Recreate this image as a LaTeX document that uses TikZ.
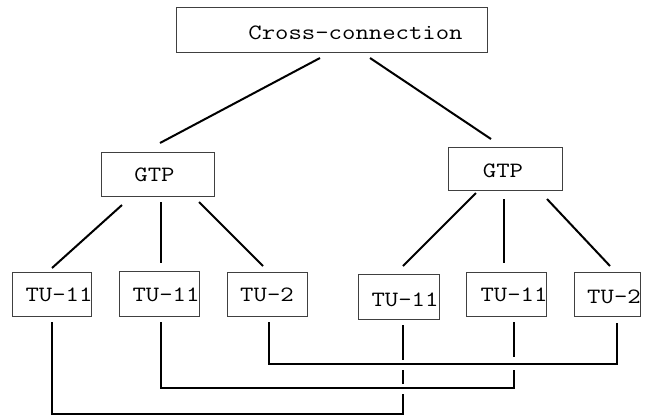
\documentclass[tikz,border=0pt]{standalone}
\usepackage{graphicx}
\tikzset{
  boxn/.style={draw=black!75, line width=0.8pt, rectangle, inner sep=0pt},
  lbl/.style={inner sep=0pt, font=\fontsize{26}{26}\ttfamily},
  link/.style={line width=2pt, line cap=butt},
  wire/.style={line width=1.6pt, line join=miter},
}
\newcommand\sq[1]{\scalebox{1}[0.84]{#1}}
\begin{document}
\begin{tikzpicture}[x=1pt,y=-1pt]
\useasboundingbox (0,0) rectangle (645,416);
% boxes
\node[boxn, minimum width=311pt, minimum height=45pt] (cc) at (331.5,29.5) {};
\node[boxn, minimum width=113pt, minimum height=44pt] (gL) at (157.5,174) {};
\node[boxn, minimum width=114pt, minimum height=43pt] (gR) at (505,168.5) {};
\node[boxn, minimum width=79pt, minimum height=44pt] (t1) at (51.5,294) {};
\node[boxn, minimum width=80pt, minimum height=45pt] (t2) at (159,293.5) {};
\node[boxn, minimum width=80pt, minimum height=44pt] (t3) at (267,294) {};
\node[boxn, minimum width=81pt, minimum height=45pt] (t4) at (398.5,296.5) {};
\node[boxn, minimum width=80pt, minimum height=44pt] (t5) at (506,294) {};
\node[boxn, minimum width=66pt, minimum height=44pt] (t6) at (607,294) {};
% labels
\node[lbl] (lcc) at (355.5,33) {\sq{Cross-connection}};
\node[lbl] (lgL) at (154.5,175) {\sq{GTP}};
\node[lbl] (lgR) at (503,171) {\sq{GTP}};
\node[lbl] (l1) at (59,295) {\sq{TU-11}};
\node[lbl] (l2) at (166,295) {\sq{TU-11}};
\node[lbl] (l3) at (267,295) {\sq{TU-2}};
\node[lbl] (l4) at (405,300) {\sq{TU-11}};
\node[lbl] (l5) at (514,295) {\sq{TU-11}};
\node[lbl] (l6) at (614,297) {\sq{TU-2}};
% connector end points
\coordinate (ccL) at (320,58);  \coordinate (gLt) at (160,143);
\coordinate (ccR) at (370,58);  \coordinate (gRt) at (491,139);
\coordinate (gL1) at (122,205); \coordinate (t1t) at (52,268);
\coordinate (gL2) at (161,202); \coordinate (t2t) at (161,263);
\coordinate (gL3) at (199,202); \coordinate (t3t) at (263,266);
\coordinate (gR1) at (476,193); \coordinate (t4t) at (403,266);
\coordinate (gR2) at (504,199); \coordinate (t5t) at (504,263);
\coordinate (gR3) at (547,199); \coordinate (t6t) at (610,266);
\draw[link] (ccL) -- (gLt);
\draw[link] (ccR) -- (gRt);
\draw[link] (gL1) -- (t1t);
\draw[link] (gL2) -- (t2t);
\draw[link] (gL3) -- (t3t);
\draw[link] (gR1) -- (t4t);
\draw[link] (gR2) -- (t5t);
\draw[link] (gR3) -- (t6t);
% bottom cross-connections
\coordinate (t1b) at (52,322);
\coordinate (t2b) at (161,322);
\coordinate (t3b) at (269,322);
\coordinate (t4b) at (403,325);
\coordinate (t5b) at (514,322);
\coordinate (t6b) at (617,323);
\draw[wire] (t3b) |- (617,364) -- (t6b);
\draw[wire] (t2b) |- (514,388) -- (514,370);
\draw[wire] (t5b) -- (514,357);
\draw[wire] (t1b) |- (403,414) -- (403,394);
\draw[wire] (403,384) -- (403,370);
\draw[wire] (t4b) -- (403,360);
\end{tikzpicture}
\end{document}
